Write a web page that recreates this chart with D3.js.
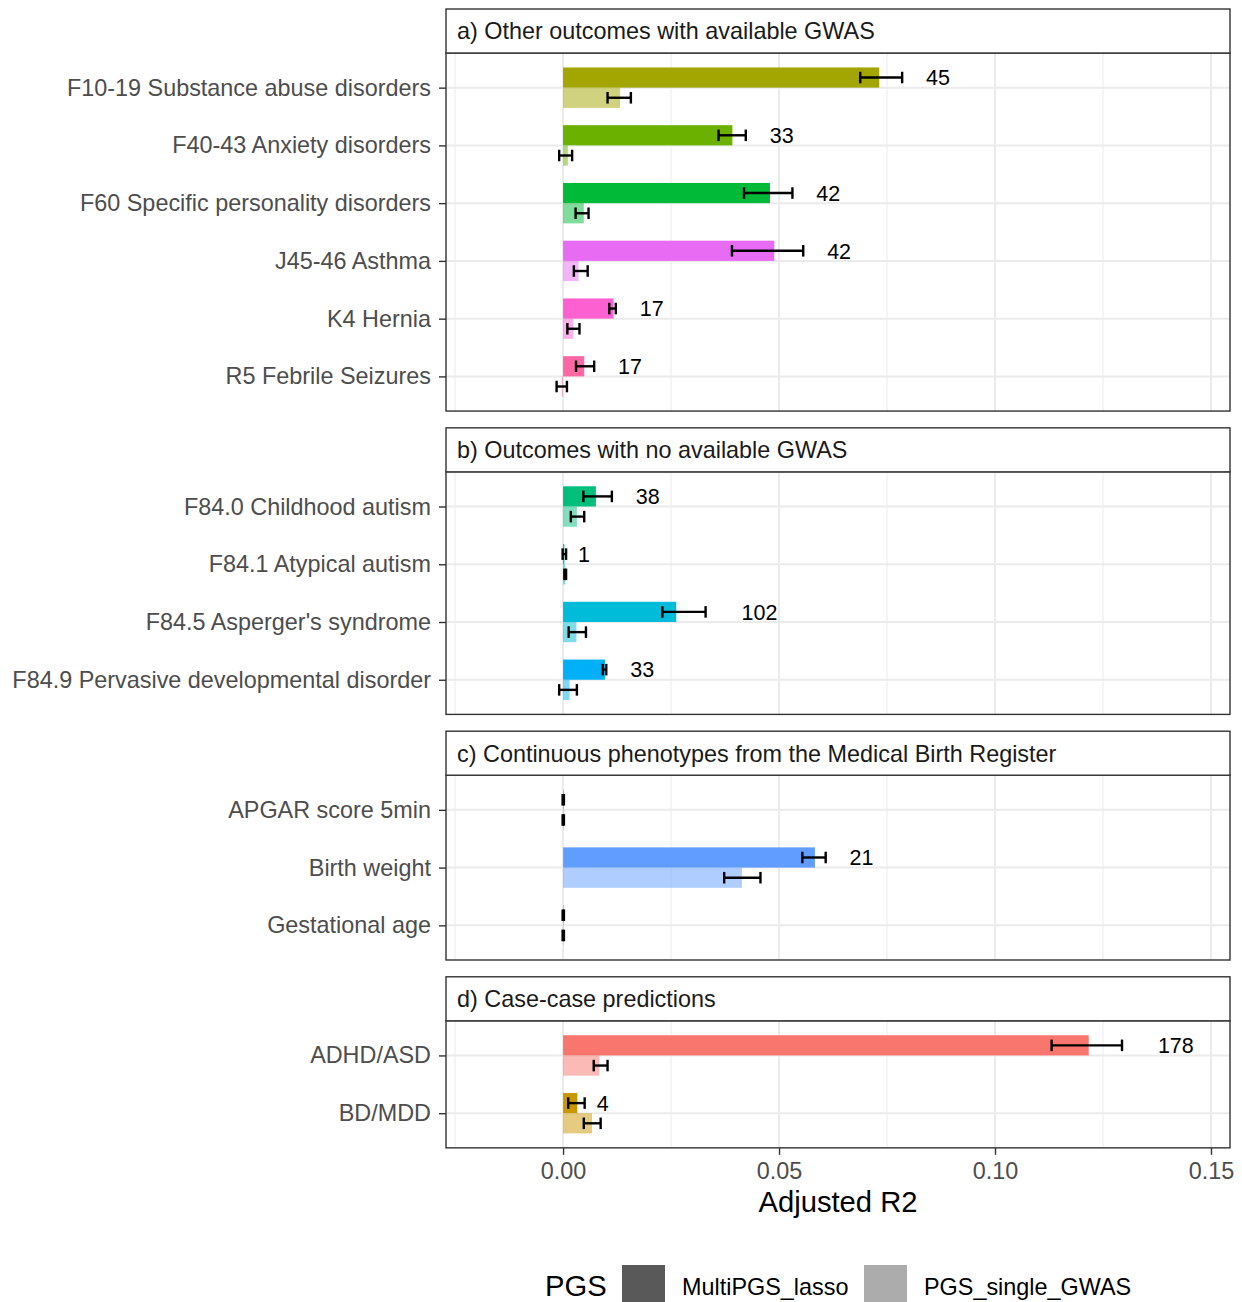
<!DOCTYPE html>
<html>
<head>
<meta charset="utf-8">
<script src="https://cdn.jsdelivr.net/npm/d3@7"></script>
<style>
  html, body { margin: 0; padding: 0; background: #fff; }
  svg { display: block; font-family: "Liberation Sans", Arial, Helvetica, sans-serif; }
</style>
</head>
<body>
<svg id="chart" width="1242" height="1302"></svg>
<script>
// Facet titles
const panels = [
  "a) Other outcomes with available GWAS",
  "b) Outcomes with no available GWAS",
  "c) Continuous phenotypes from the Medical Birth Register",
  "d) Case-case predictions"
];

// Outcomes, in drawing order, and the facet each belongs to
const outcomes = [
  "F10-19 Substance abuse disorders",
  "F40-43 Anxiety disorders",
  "F60 Specific personality disorders",
  "J45-46 Asthma",
  "K4 Hernia",
  "R5 Febrile Seizures",
  "F84.0 Childhood autism",
  "F84.1 Atypical autism",
  "F84.5 Asperger's syndrome",
  "F84.9 Pervasive developmental disorder",
  "APGAR score 5min",
  "Birth weight",
  "Gestational age",
  "ADHD/ASD",
  "BD/MDD"
];
const panelOf = [0, 0, 0, 0, 0, 0, 1, 1, 1, 1, 2, 2, 2, 3, 3];

// Adjusted R2 for the multi-PGS lasso model, with interval bounds
const lassoR2 = [0.0732, 0.0392, 0.0479, 0.0489, 0.0117, 0.0049, 0.0076, 0.0003, 0.0262, 0.0097, 0.0001, 0.0583, 0.0001, 0.1217, 0.0033];
const lassoLo = [0.0688, 0.0360, 0.0419, 0.0391, 0.0107, 0.0030, 0.0047, -0.0001, 0.0230, 0.0092, -0.0001, 0.0554, -0.0001, 0.1131, 0.0012];
const lassoHi = [0.0785, 0.0423, 0.0531, 0.0556, 0.0122, 0.0072, 0.0113, 0.0007, 0.0330, 0.0100, 0.0002, 0.0608, 0.0002, 0.1294, 0.0050];

// Adjusted R2 for the single-GWAS PGS, with interval bounds
const singleR2 = [0.0132, 0.0011, 0.0048, 0.0036, 0.0024, -0.0003, 0.0032, 0.0005, 0.0031, 0.0015, 0.0001, 0.0414, 0.0001, 0.0084, 0.0067];
const singleLo = [0.0103, -0.0009, 0.0029, 0.0025, 0.0010, -0.0015, 0.0018, 0.0003, 0.0013, -0.0009, -0.0001, 0.0373, -0.0001, 0.0071, 0.0048];
const singleHi = [0.0157, 0.0021, 0.0059, 0.0057, 0.0038, 0.0009, 0.0049, 0.0007, 0.0053, 0.0032, 0.0002, 0.0457, 0.0002, 0.0103, 0.0087];

// Number of PGS selected by the lasso (null: not shown)
const nSelected = [45, 33, 42, 42, 17, 17, 38, 1, 102, 33, null, 21, null, 178, 4];

// Hue palette keyed by outcome
const outcomeColors = {
  "ADHD/ASD": "#F8766D",
  "APGAR score 5min": "#E58700",
  "BD/MDD": "#C99800",
  "F10-19 Substance abuse disorders": "#A3A500",
  "F40-43 Anxiety disorders": "#6BB100",
  "F60 Specific personality disorders": "#00BA38",
  "F84.0 Childhood autism": "#00BF7D",
  "F84.1 Atypical autism": "#00C0AF",
  "F84.5 Asperger's syndrome": "#00BCD8",
  "F84.9 Pervasive developmental disorder": "#00B0F6",
  "Birth weight": "#619CFF",
  "Gestational age": "#B983FF",
  "J45-46 Asthma": "#E76BF3",
  "K4 Hernia": "#FD61D1",
  "R5 Febrile Seizures": "#FF67A4"
};

// X axis ticks
const xTicks = [0, 0.05, 0.10, 0.15];
const xMinor = [-0.025, 0.025, 0.075, 0.125];
const xTickLabels = ["0.00", "0.05", "0.10", "0.15"];

// Legend
const legendTitle = "PGS";
const legendItems = ["MultiPGS_lasso", "PGS_single_GWAS"];
const xTitle = "Adjusted R2";

// ---- layout ----
const svg = d3.select("#chart");
const plotLeft = 446, plotRight = 1230;
const unit = 57.75;          // vertical px per category
const stripH = 44, gap = 16.8, top0 = 9;
const barW = 0.7 * unit;     // dodged pair occupies 0.7 of a category
const capH = 0.2 * unit;
const fsBase = 29.2, fsText = 23.4, fsLabel = 21.5;

const x = d3.scaleLinear().domain([-0.0271, 0.1544]).range([plotLeft, plotRight]);

const rows = outcomes.map((o, i) => ({
  name: o, panel: panelOf[i],
  lasso: lassoR2[i], lassoLo: lassoLo[i], lassoHi: lassoHi[i],
  single: singleR2[i], singleLo: singleLo[i], singleHi: singleHi[i],
  n: nSelected[i], color: outcomeColors[o]
}));

const grid = svg.append("g");
const marks = svg.append("g");
const frames = svg.append("g");

let yCursor = top0;
const panelGeom = panels.map((title, p) => {
  const cats = rows.filter(r => r.panel === p).map(r => r.name);
  const stripTop = yCursor;
  const plotTop = stripTop + stripH;
  const plotBottom = plotTop + unit * (cats.length - 1 + 1.2);
  yCursor = plotBottom + gap;
  const y = d3.scalePoint().domain(cats).range([plotTop, plotBottom]).padding(0.6);
  return { title, cats, stripTop, plotTop, plotBottom, y };
});

panelGeom.forEach((g, p) => {
  // minor vertical grid
  grid.selectAll(null).data(xMinor).join("line")
    .attr("x1", d => x(d)).attr("x2", d => x(d))
    .attr("y1", g.plotTop).attr("y2", g.plotBottom)
    .attr("stroke", "#EBEBEB").attr("stroke-width", 1);
  // major vertical grid
  grid.selectAll(null).data(xTicks).join("line")
    .attr("x1", d => x(d)).attr("x2", d => x(d))
    .attr("y1", g.plotTop).attr("y2", g.plotBottom)
    .attr("stroke", "#EBEBEB").attr("stroke-width", 2);
  // horizontal grid at each category
  grid.selectAll(null).data(g.cats).join("line")
    .attr("x1", plotLeft).attr("x2", plotRight)
    .attr("y1", d => g.y(d)).attr("y2", d => g.y(d))
    .attr("stroke", "#EBEBEB").attr("stroke-width", 2);

  const pr = rows.filter(r => r.panel === p);
  const gm = marks.append("g");

  // lasso bars (upper half of the dodged pair)
  gm.selectAll(null).data(pr).join("rect")
    .attr("x", d => Math.min(x(0), x(d.lasso)))
    .attr("width", d => Math.max(0.6, Math.abs(x(d.lasso) - x(0))))
    .attr("y", d => g.y(d.name) - barW / 2)
    .attr("height", barW / 2)
    .attr("fill", d => d.color);
  // single-GWAS bars (lower half, translucent)
  gm.selectAll(null).data(pr).join("rect")
    .attr("x", d => Math.min(x(0), x(d.single)))
    .attr("width", d => Math.max(0.6, Math.abs(x(d.single) - x(0))))
    .attr("y", d => g.y(d.name))
    .attr("height", barW / 2)
    .attr("fill", d => d.color).attr("fill-opacity", 0.5);

  // error bars
  const errs = [];
  pr.forEach(d => {
    errs.push({ lo: d.lassoLo, hi: d.lassoHi, cy: g.y(d.name) - barW / 4 });
    errs.push({ lo: d.singleLo, hi: d.singleHi, cy: g.y(d.name) + barW / 4 });
  });
  const eb = gm.selectAll(null).data(errs).join("g")
    .attr("stroke", "#000").attr("stroke-width", 2.4).attr("fill", "none");
  eb.append("line").attr("x1", d => x(d.lo)).attr("x2", d => x(d.hi))
    .attr("y1", d => d.cy).attr("y2", d => d.cy);
  eb.append("line").attr("x1", d => x(d.lo)).attr("x2", d => x(d.lo))
    .attr("y1", d => d.cy - capH / 2).attr("y2", d => d.cy + capH / 2);
  eb.append("line").attr("x1", d => x(d.hi)).attr("x2", d => x(d.hi))
    .attr("y1", d => d.cy - capH / 2).attr("y2", d => d.cy + capH / 2);

  // count labels, offset right by their own width from the upper bound
  gm.selectAll(null).data(pr.filter(d => d.n !== null)).join("text")
    .attr("x", d => x(d.lassoHi))
    .attr("y", d => g.y(d.name) - barW / 4)
    .attr("dy", "0.36em")
    .attr("font-size", fsLabel).attr("fill", "#000")
    .text(d => d.n)
    .each(function () {
      const w = this.getComputedTextLength();
      d3.select(this).attr("x", +d3.select(this).attr("x") + w);
    });

  // panel border
  frames.append("rect")
    .attr("x", plotLeft).attr("y", g.plotTop)
    .attr("width", plotRight - plotLeft).attr("height", g.plotBottom - g.plotTop)
    .attr("fill", "none").attr("stroke", "#333").attr("stroke-width", 1.4);
  // strip
  frames.append("rect")
    .attr("x", plotLeft).attr("y", g.stripTop)
    .attr("width", plotRight - plotLeft).attr("height", stripH)
    .attr("fill", "#fff").attr("stroke", "#333").attr("stroke-width", 1.4);
  frames.append("text")
    .attr("x", plotLeft + 11).attr("y", g.stripTop + stripH / 2)
    .attr("dy", "0.36em").attr("font-size", fsText).attr("fill", "#1A1A1A")
    .text(g.title);

  // y axis
  const ya = frames.append("g").attr("transform", `translate(${plotLeft},0)`)
    .call(d3.axisLeft(g.y).tickSize(7).tickPadding(8));
  ya.select(".domain").remove();
  ya.selectAll(".tick line").attr("stroke", "#333").attr("stroke-width", 1.4);
  ya.selectAll(".tick text").attr("font-size", fsText).attr("fill", "#4D4D4D")
    .attr("font-family", "Liberation Sans, Arial, sans-serif");
});

// x axis under the last panel
const last = panelGeom[panelGeom.length - 1];
const xa = frames.append("g").attr("transform", `translate(0,${last.plotBottom})`)
  .call(d3.axisBottom(x).tickValues(xTicks).tickFormat((d, i) => xTickLabels[i]).tickSize(7).tickPadding(8));
xa.select(".domain").remove();
xa.selectAll(".tick line").attr("stroke", "#333").attr("stroke-width", 1.4);
xa.selectAll(".tick text").attr("font-size", fsText).attr("fill", "#4D4D4D")
  .attr("font-family", "Liberation Sans, Arial, sans-serif");

svg.append("text")
  .attr("x", (plotLeft + plotRight) / 2).attr("y", 1212)
  .attr("text-anchor", "middle").attr("font-size", fsBase).attr("fill", "#000")
  .text(xTitle);

// legend
const lg = svg.append("g");
lg.append("text").attr("x", 545).attr("y", 1296).attr("font-size", fsBase).attr("fill", "#000").text(legendTitle);
const keyX = [622, 864];
const keyFill = ["#595959", "#ACACAC"];
legendItems.forEach((t, i) => {
  lg.append("rect").attr("x", keyX[i]).attr("y", 1265).attr("width", 43).attr("height", 43).attr("fill", keyFill[i]);
  lg.append("text").attr("x", keyX[i] + 60).attr("y", 1295).attr("font-size", fsText).attr("fill", "#000").text(t);
});
</script>
</body>
</html>
